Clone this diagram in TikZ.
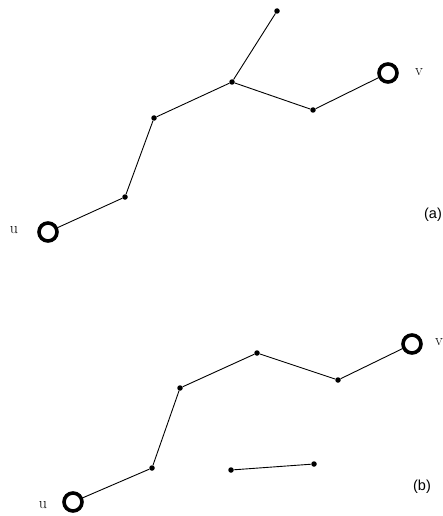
\documentclass[tikz,border=0pt]{standalone}
\usepackage{fontspec}
\newfontfamily\lblfont{Liberation Sans}
\begin{document}
\begin{tikzpicture}[x=1pt,y=-1pt,
  ring/.style={circle,draw,line width=3.6pt,minimum size=18pt,inner sep=0pt},
  dot/.style={circle,fill,inner sep=0pt,minimum size=5.5pt},
  edge/.style={line width=0.9pt},
  vlabel/.style={font=\fontsize{16}{18}\selectfont},
  plabel/.style={font=\lblfont\fontsize{14.5}{17}\selectfont}]
\useasboundingbox (0,0) rectangle (443,516);
% (a)
\node[ring] (ua) at (48,232) {};
\node[dot] (a1) at (125,197) {};
\node[dot] (a2) at (154,118) {};
\node[dot] (a3) at (232,82) {};
\node[dot] (a4) at (277,11) {};
\node[dot] (a5) at (313,110) {};
\node[ring] (va) at (388,73) {};
\draw[edge] (ua) -- (a1) -- (a2) -- (a3) -- (a4);
\draw[edge] (a3) -- (a5) -- (va);
\node[vlabel] (lua) at (14,230) {u};
\node[vlabel] (lva) at (419,72) {v};
\node[plabel] (la) at (433,215) {(a)};
% (b)
\node[ring] (ub) at (73,502) {};
\node[dot] (b1) at (152,468) {};
\node[dot] (b2) at (180,388) {};
\node[dot] (b3) at (257,353) {};
\node[dot] (b4) at (338,380) {};
\node[ring] (vb) at (412,344) {};
\draw[edge] (ub) -- (b1) -- (b2) -- (b3) -- (b4) -- (vb);
\node[dot] (c1) at (231,470) {};
\node[dot] (c2) at (314,464) {};
\draw[edge] (c1) -- (c2);
\node[vlabel] (lub) at (43,505) {u};
\node[vlabel] (lvb) at (439,342) {v};
\node[plabel] (lb) at (422,487) {(b)};
\end{tikzpicture}
\end{document}
